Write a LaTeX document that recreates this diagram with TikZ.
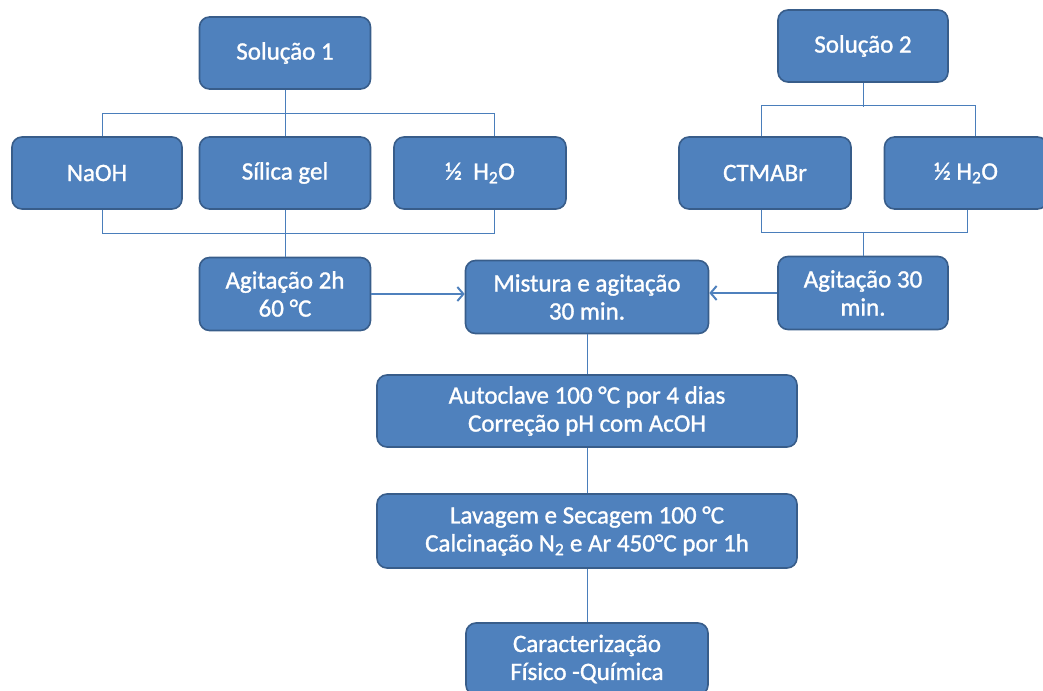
\documentclass[tikz,border=0pt]{standalone}
\usepackage{fontspec}
\setmainfont{Carlito}[RawFeature={embolden=1.2}]
\usetikzlibrary{arrows.meta}
\definecolor{caixa}{HTML}{4F81BD}
\definecolor{borda}{HTML}{385D8A}
\definecolor{ligacao}{HTML}{4A7EBB}
\tikzset{
	etapa/.style={draw=borda,line width=1.6pt,fill=caixa,rounded corners=10pt,text=white,align=center,inner sep=2pt,font=\fontsize{25}{28}\selectfont},
	linha/.style={draw=ligacao,line width=0.9pt},
	seta/.style={draw=caixa,line width=2.6pt,-{Straight Barb[length=6pt,width=14pt,line width=2pt]}}
}
\begin{document}
\begin{tikzpicture}[x=1pt,y=-1pt]
			\useasboundingbox (0,0) rectangle (1043,690);
			\node[etapa,minimum width=171pt,minimum height=72pt] (sol1) at (285,53){Solução 1};
			\node[etapa,minimum width=170pt,minimum height=72pt] (naoh) at (97,173){NaOH};
			\node[etapa,minimum width=171pt,minimum height=72pt] (silica) at (285,173){Sílica gel};
			\node[etapa,minimum width=172pt,minimum height=72pt] (agua1) at (480,173){½\ \ H\textsubscript{2}O};
			\node[etapa,minimum width=171pt,minimum height=73pt] (agit1) at (285,294){Agitação 2h\\60 °C};
			\node[etapa,minimum width=170pt,minimum height=72pt] (sol2) at (863,46){Solução 2};
			\node[etapa,minimum width=172pt,minimum height=72pt] (ctmabr) at (765,173){CTMABr};
			\node[etapa,minimum width=163pt,minimum height=72pt] (agua2) at (966,173){½ H\textsubscript{2}O};
			\node[etapa,minimum width=170pt,minimum height=73pt] (agit2) at (863,293){Agitação 30\\min.};
			\node[etapa,minimum width=243pt,minimum height=73pt] (mist) at (587,297){Mistura e agitação\\30 min.};
			\node[etapa,minimum width=420pt,minimum height=72pt] (autoc) at (587,411){Autoclave 100 °C por 4 dias\\Correção pH com AcOH};
			\node[etapa,minimum width=420pt,minimum height=74pt] (lavag) at (587,531){Lavagem e Secagem 100 °C\\Calcinação N\textsubscript{2} e Ar 450°C por 1h};
			\node[etapa,minimum width=242pt,minimum height=72pt] (carac) at (587,659){Caracterização\\Físico -Química};
			% solucao 1
			\draw[linha] (sol1.south) -- (silica.north);
			\draw[linha] ([xshift=5pt]naoh.north) -- ++(0,-23) -| ([xshift=14pt]agua1.north);
			\draw[linha] ([xshift=5pt]naoh.south) -- ++(0,24) -| ([xshift=14pt]agua1.south);
			\draw[linha] (silica.south) -- (agit1.north);
			% solucao 2
			\draw[linha] (sol2.south) -- ++(0,24);
			\draw[linha] ([xshift=-4pt]ctmabr.north) -- ++(0,-31) -| ([xshift=9pt]agua2.north);
			\draw[linha] ([xshift=-4pt]ctmabr.south) -- ++(0,23) -| ([xshift=1pt]agua2.south);
			\draw[linha] (agit2.north) -- ++(0,-24);
			% mistura
			\draw[seta] (agit1.east) -- (agit1.east -| mist.west);
			\draw[seta] (agit2.west) -- (agit2.west -| mist.east);
			\draw[linha] (mist.south) -- (autoc.north);
			\draw[linha] (autoc.south) -- (lavag.north);
			\draw[linha] (lavag.south) -- (carac.north);
		\end{tikzpicture}
\end{document}
